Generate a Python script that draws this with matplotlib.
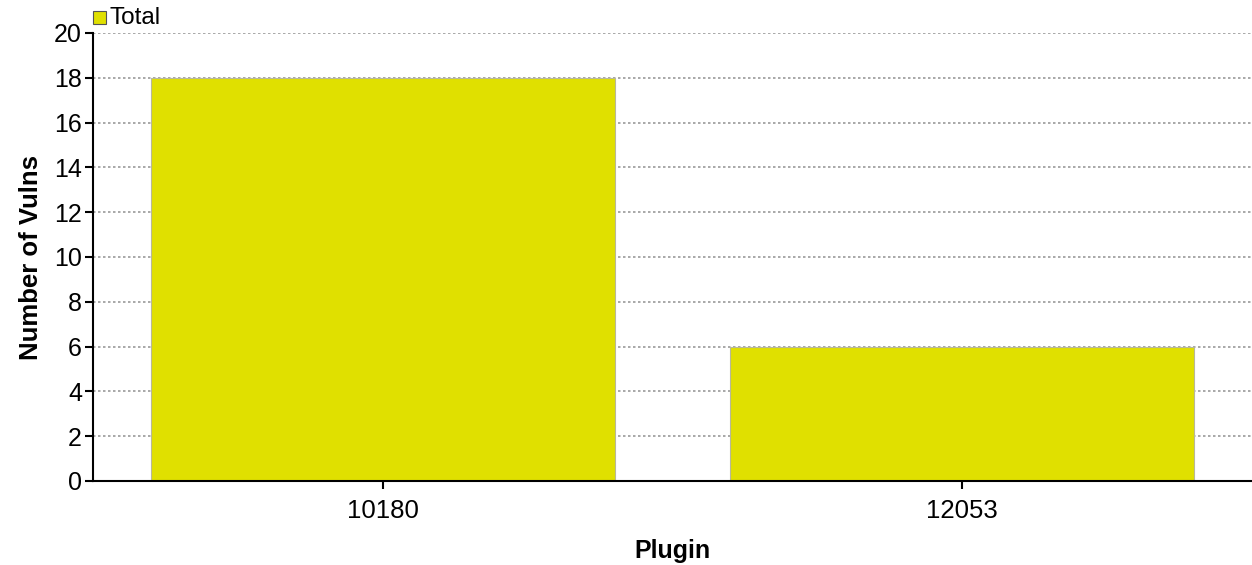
import matplotlib
matplotlib.use("Agg")
import matplotlib.pyplot as plt
from matplotlib.patches import Rectangle

plt.rcParams['font.family'] = ['Liberation Sans', 'DejaVu Sans']

categories = ["10180", "12053"]
totals = [18, 6]
series_name = "Total"
yticks = list(range(0, 21, 2))

fig = plt.figure(figsize=(12.52, 5.65), dpi=100)
ax = fig.add_axes([93/1252, 1 - 481/565, (1252 - 93)/1252, (481 - 33)/565])

x = list(range(len(categories)))
ax.bar(x, totals, width=0.8, color="#E0E000", edgecolor="#B8B89A", linewidth=0.8, zorder=3)

ax.set_xlim(-0.5, len(categories) - 0.5)
ax.set_ylim(0, 20)
ax.set_yticks(yticks)
ax.set_xticks(x)
ax.set_xticklabels(categories)
ax.tick_params(axis='y', labelsize=18, length=6, width=1.5, direction='out', pad=2)
ax.tick_params(axis='x', labelsize=18.5, length=6, width=1.5, direction='out', pad=7)

ax.yaxis.grid(True, linestyle=(0, (1.5, 1.5)), color="#999999", linewidth=1.2, zorder=0)
ax.set_axisbelow(True)
for s in ["top", "right"]:
    ax.spines[s].set_visible(False)
ax.spines["left"].set_linewidth(1.5)
ax.spines["bottom"].set_linewidth(1.5)
ax.spines["bottom"].set_zorder(4)

ax.set_ylabel("Number of Vulns", fontsize=18.5, fontweight="bold", labelpad=8)
ax.set_xlabel("Plugin", fontsize=18, fontweight="bold")
ax.xaxis.label.set_va("center")
ax.xaxis.set_label_coords(0.5, (481 - 551) / 448)

# legend at top-left
fig.patches.append(Rectangle((93/1252, 1 - 24/565), 13/1252, 13/565, transform=fig.transFigure,
                             facecolor="#E0E000", edgecolor="#555555", linewidth=0.8))
fig.text(109/1252, 1 - 18/565, series_name, fontsize=17.5, va="center", ha="left")

fig.savefig("out.png", dpi=100)
